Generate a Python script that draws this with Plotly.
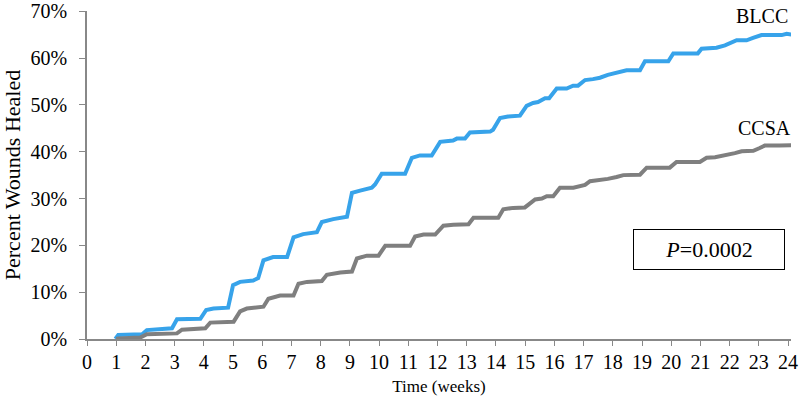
import plotly.graph_objects as go

# BLCC (blue) cumulative percent healed
blcc_weeks = [0.97, 1.07, 1.89, 2.05, 2.91, 3.08, 3.88, 4.08, 4.33, 4.83, 5.00, 5.24, 5.69, 5.86,
              6.04, 6.37, 6.85, 7.07, 7.40, 7.87, 8.04, 8.43, 8.90, 9.07, 9.35, 9.75, 9.86,
              10.09, 10.89, 11.12, 11.40, 11.80, 12.09, 12.53, 12.66, 12.94, 13.11, 13.80, 13.90,
              14.14, 14.41, 14.82, 15.05, 15.27, 15.44, 15.68, 15.82, 16.08, 16.42, 16.64, 16.81,
              17.05, 17.32, 17.56, 17.83, 18.13, 18.47, 18.93, 19.10, 19.90, 20.07, 20.91, 21.04,
              21.55, 21.84, 22.24, 22.58, 22.80, 23.09, 23.78, 23.95, 24.12]
blcc_pct = [0.0, 0.85, 1.0, 1.9, 2.3, 4.2, 4.3, 6.2, 6.5, 6.7, 11.5, 12.2, 12.5, 13.0,
            16.8, 17.5, 17.5, 21.7, 22.4, 22.8, 25.0, 25.6, 26.1, 31.2, 31.7, 32.3, 33.0,
            35.3, 35.3, 38.7, 39.2, 39.2, 42.1, 42.4, 42.8, 42.8, 44.1, 44.3, 44.7,
            47.2, 47.5, 47.7, 49.8, 50.4, 50.6, 51.4, 51.4, 53.5, 53.5, 54.1, 54.1,
            55.3, 55.5, 55.8, 56.4, 56.9, 57.4, 57.4, 59.3, 59.3, 61.0, 61.0, 62.0,
            62.2, 62.7, 63.8, 63.8, 64.3, 64.9, 64.9, 65.2, 65.0]

# CCSA (gray) cumulative percent healed
ccsa_weeks = [1.0, 1.07, 1.82, 2.05, 3.08, 3.25, 4.05, 4.22, 5.02, 5.24, 5.47, 6.04, 6.21, 6.61,
              7.07, 7.24, 7.53, 8.04, 8.21, 8.67, 9.07, 9.24, 9.58, 9.98, 10.21, 11.06, 11.23,
              11.52, 11.92, 12.20, 12.54, 12.88, 13.06, 13.23, 14.08, 14.25, 14.59, 14.99, 15.17,
              15.34, 15.57, 15.74, 15.96, 16.19, 16.65, 16.88, 17.05, 17.22, 17.56, 17.83, 18.13,
              18.36, 18.93, 19.16, 19.95, 20.18, 20.98, 21.21, 21.50, 21.84, 22.18, 22.41, 22.81,
              23.03, 23.20, 23.71, 24.12]
ccsa_pct = [0.0, 0.1, 0.3, 1.0, 1.2, 2.0, 2.3, 3.5, 3.7, 5.9, 6.5, 6.9, 8.6, 9.3,
            9.3, 11.8, 12.2, 12.4, 13.7, 14.2, 14.4, 17.2, 17.8, 17.8, 19.9, 19.9, 21.9,
            22.3, 22.3, 24.2, 24.4, 24.6, 24.5, 25.9, 25.9, 27.7, 28.0, 28.1, 29.1,
            29.8, 30.0, 30.5, 30.5, 32.3, 32.3, 32.7, 32.9, 33.7, 33.9, 34.2, 34.6,
            35.0, 35.1, 36.6, 36.6, 37.8, 37.8, 38.7, 38.8, 39.2, 39.7, 40.1, 40.2,
            40.8, 41.3, 41.3, 41.4]

x_ticks = list(range(0, 25))
y_ticks = [0, 0.1, 0.2, 0.3, 0.4, 0.5, 0.6, 0.7]
y_ticktext = ["0%", "10%", "20%", "30%", "40%", "50%", "60%", "70%"]
series_names = ["BLCC", "CCSA"]
p_text = "<i>P</i>=0.0002"

FONT = "Liberation Serif, Times New Roman, serif"
BLUE = "#37a3ea"
GRAY = "#7f7f7f"

fig = go.Figure()
fig.add_trace(go.Scatter(x=blcc_weeks, y=[v / 100 for v in blcc_pct], mode="lines",
                         line=dict(color=BLUE, width=4), name=series_names[0], cliponaxis=False))
fig.add_trace(go.Scatter(x=ccsa_weeks, y=[v / 100 for v in ccsa_pct], mode="lines",
                         line=dict(color=GRAY, width=4), name=series_names[1], cliponaxis=False))

fig.add_annotation(x=23.1, y=0.689, text=series_names[0], showarrow=False,
                   font=dict(family=FONT, size=20, color="black"))
fig.add_annotation(x=23.2, y=0.45, text=series_names[1], showarrow=False,
                   font=dict(family=FONT, size=20, color="black"))
fig.add_annotation(x=21.29, y=0.191, text=p_text, showarrow=False,
                   font=dict(family=FONT, size=22, color="black"),
                   width=150, height=39, bordercolor="black", borderwidth=1, borderpad=0,
                   bgcolor="white")

fig.update_layout(
    width=800, height=403,
    margin=dict(l=87, r=9, t=11, b=64),
    plot_bgcolor="white", paper_bgcolor="white",
    showlegend=False,
    font=dict(family=FONT, size=20, color="black"),
    xaxis=dict(range=[0, 24.1], tickvals=x_ticks, ticktext=[str(v) for v in x_ticks],
               automargin=False, ticklabeloverflow="allow",
               showgrid=False, zeroline=False, showline=True, linecolor="#888888", linewidth=1.5,
               ticks="outside", ticklen=5, tickcolor="#888888", tickwidth=1.2,
               ticklabelstandoff=-1,
               tickfont=dict(family=FONT, size=20, color="black"),
               title=dict(text="Time (weeks)", font=dict(family=FONT, size=17, color="black"),
                          standoff=8)),
    yaxis=dict(range=[0, 0.7005], tickvals=y_ticks, ticktext=y_ticktext,
               automargin=False, ticklabeloverflow="allow",
               showgrid=False, zeroline=False, showline=True, linecolor="#888888", linewidth=1.5,
               ticks="outside", ticklen=6, tickcolor="#888888", tickwidth=1.2,
               ticklabelstandoff=8,
               tickfont=dict(family=FONT, size=20, color="black"),
               title=dict(text="Percent Wounds Healed", font=dict(family=FONT, size=22, color="black"),
                          standoff=6)),
)

fig.write_html("out.html", config={"displayModeBar": False},
               post_script="document.body.style.margin='0px';document.body.style.overflow='hidden';")
